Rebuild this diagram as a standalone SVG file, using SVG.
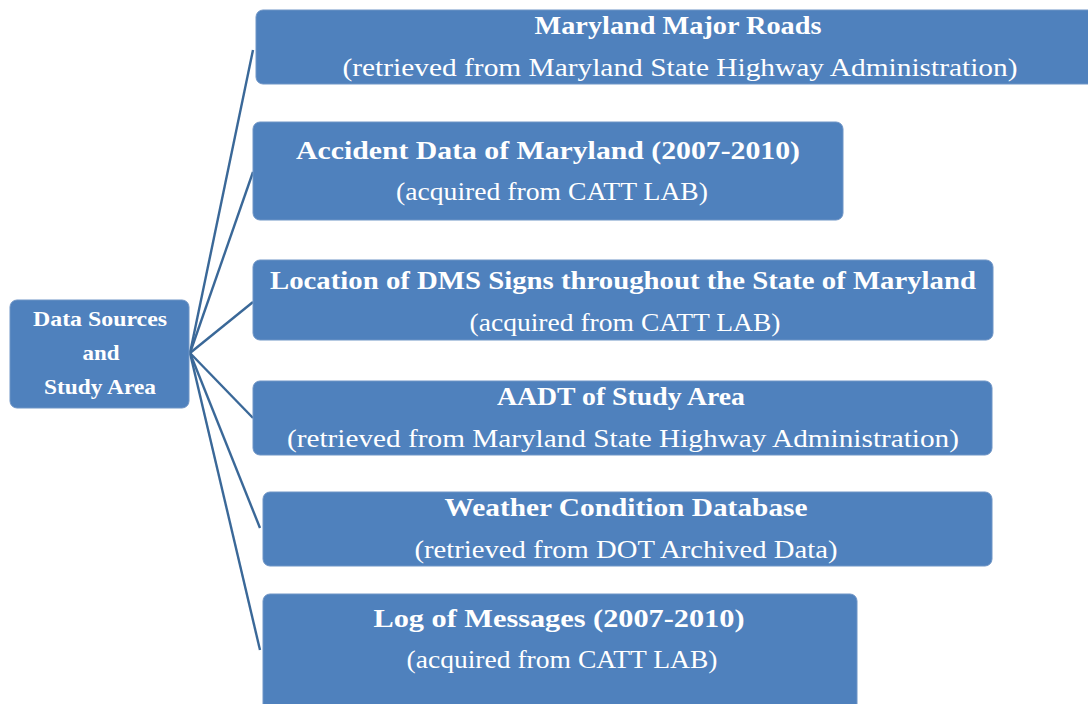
<svg xmlns="http://www.w3.org/2000/svg" width="1088" height="704" viewBox="0 0 1088 704">
<style>
.box{fill:#4F81BD;stroke:#6F95C6;stroke-width:1}
.t{font-family:"Liberation Serif","DejaVu Serif",serif;fill:#FFFFFF;text-anchor:middle}
.h{font-size:26px;font-weight:bold}
.s{font-size:26px}
.l{font-size:21px;font-weight:bold}
.c{stroke:#3A6898;stroke-width:2.4;fill:none}
</style>
<rect width="1088" height="704" fill="#FFFFFF"/>
<g id="connectors">
<line class="c" x1="190" y1="353" x2="253" y2="50"/>
<line class="c" x1="190" y1="353" x2="253" y2="172"/>
<line class="c" x1="190" y1="353" x2="253" y2="302"/>
<line class="c" x1="190" y1="353" x2="253" y2="418"/>
<line class="c" x1="190" y1="353" x2="260" y2="528"/>
<line class="c" x1="190" y1="353" x2="260" y2="650"/>
</g>
<g id="root">
<rect class="box" x="10" y="300" width="179" height="108" rx="7"/>
<text class="t l" x="100" y="326" textLength="134" lengthAdjust="spacingAndGlyphs">Data Sources</text>
<text class="t l" x="101" y="360" textLength="37" lengthAdjust="spacingAndGlyphs">and</text>
<text class="t l" x="100" y="394" textLength="112" lengthAdjust="spacingAndGlyphs">Study Area</text>
</g>
<g id="n1">
<rect class="box" x="256" y="10" width="860" height="74" rx="7"/>
<text class="t h" x="678" y="34" textLength="287" lengthAdjust="spacingAndGlyphs">Maryland Major Roads</text>
<text class="t s" x="680" y="76" textLength="675" lengthAdjust="spacingAndGlyphs">(retrieved from Maryland State Highway Administration)</text>
</g>
<g id="n2">
<rect class="box" x="253" y="122" width="590" height="98" rx="7"/>
<text class="t h" x="548" y="159" textLength="504" lengthAdjust="spacingAndGlyphs">Accident Data of Maryland (2007-2010)</text>
<text class="t s" x="552" y="200" textLength="312" lengthAdjust="spacingAndGlyphs">(acquired from CATT LAB)</text>
</g>
<g id="n3">
<rect class="box" x="253" y="260" width="740" height="80" rx="7"/>
<text class="t h" x="623" y="289" textLength="706" lengthAdjust="spacingAndGlyphs">Location of DMS Signs throughout the State of Maryland</text>
<text class="t s" x="625" y="331" textLength="311" lengthAdjust="spacingAndGlyphs">(acquired from CATT LAB)</text>
</g>
<g id="n4">
<rect class="box" x="253" y="381" width="739" height="74" rx="7"/>
<text class="t h" x="621" y="405" textLength="248" lengthAdjust="spacingAndGlyphs">AADT of Study Area</text>
<text class="t s" x="623" y="447" textLength="672" lengthAdjust="spacingAndGlyphs">(retrieved from Maryland State Highway Administration)</text>
</g>
<g id="n5">
<rect class="box" x="263" y="492" width="729" height="74" rx="7"/>
<text class="t h" x="626" y="516" textLength="363" lengthAdjust="spacingAndGlyphs">Weather Condition Database</text>
<text class="t s" x="626" y="558" textLength="423" lengthAdjust="spacingAndGlyphs">(retrieved from DOT Archived Data)</text>
</g>
<g id="n6">
<rect class="box" x="263" y="594" width="594" height="130" rx="7"/>
<text class="t h" x="559" y="627" textLength="371" lengthAdjust="spacingAndGlyphs">Log of Messages (2007-2010)</text>
<text class="t s" x="562" y="668" textLength="311" lengthAdjust="spacingAndGlyphs">(acquired from CATT LAB)</text>
</g>
</svg>
